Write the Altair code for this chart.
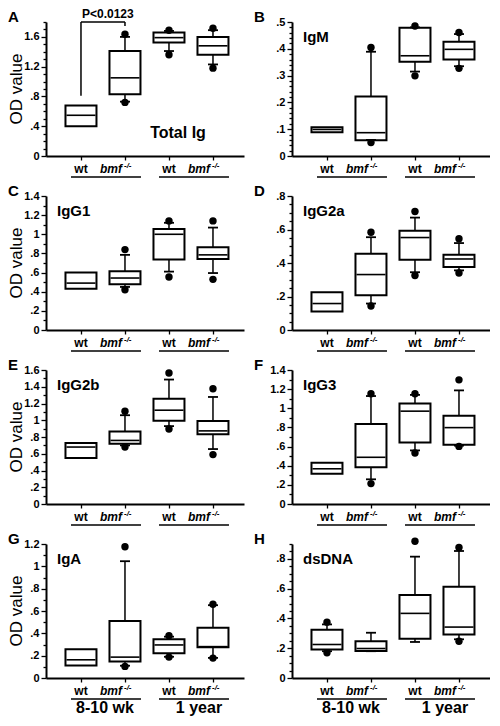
import altair as alt
import pandas as pd

GROUPS = ["wt 8-10 wk", "bmf 8-10 wk", "wt 1 year", "bmf 1 year"]
GENOTYPE = ["wt", "bmf", "wt", "bmf"]
SUPERSCRIPT = ["", "-/-", "", "-/-"]
AGE_LABELS = ["8-10 wk", "1 year"]

# per panel: box q1 / median / q3, whisker ends, and the plotted extreme dots
TOTAL_IG = {"q1": [0.40, 0.83, 1.525, 1.36], "median": [0.547, 1.05, 1.59, 1.48], "q3": [0.68, 1.41, 1.66, 1.60],
            "wlo": [None, 0.73, 1.41, 1.23], "whi": [None, 1.60, 1.68, 1.69],
            "dlo": [None, 0.72, 1.36, 1.18], "dhi": [None, 1.635, 1.69, 1.715]}
IGM = {"q1": [0.089, 0.059, 0.352, 0.36], "median": [0.099, 0.087, 0.374, 0.398], "q3": [0.107, 0.222, 0.479, 0.426],
       "wlo": [None, 0.06, 0.315, 0.335], "whi": [None, 0.389, 0.48, 0.455],
       "dlo": [None, 0.05, 0.299, 0.327], "dhi": [None, 0.405, 0.485, 0.461]}
IGG1 = {"q1": [0.43, 0.477, 0.736, 0.743], "median": [0.49, 0.543, 1.0, 0.785], "q3": [0.60, 0.615, 1.055, 0.864],
        "wlo": [None, 0.45, 0.61, 0.595], "whi": [None, 0.785, 1.12, 1.07],
        "dlo": [None, 0.42, 0.553, 0.529], "dhi": [None, 0.84, 1.14, 1.14]}
IGG2A = {"q1": [0.111, 0.208, 0.42, 0.376], "median": [0.158, 0.331, 0.552, 0.424], "q3": [0.226, 0.455, 0.592, 0.45],
         "wlo": [None, 0.158, 0.345, 0.356], "whi": [None, 0.554, 0.671, 0.519],
         "dlo": [None, 0.143, 0.325, 0.34], "dhi": [None, 0.584, 0.707, 0.545]}
IGG2B = {"q1": [0.55, 0.72, 0.995, 0.833], "median": [0.68, 0.759, 1.12, 0.873], "q3": [0.727, 0.865, 1.258, 0.99],
         "wlo": [None, 0.70, 0.93, 0.656], "whi": [None, 1.06, 1.486, 1.278],
         "dlo": [None, 0.68, 0.896, 0.59], "dhi": [None, 1.108, 1.564, 1.376]}
IGG3 = {"q1": [0.316, 0.385, 0.643, 0.619], "median": [0.368, 0.488, 0.97, 0.798], "q3": [0.43, 0.836, 1.049, 0.922],
        "wlo": [None, 0.258, 0.56, 0.61], "whi": [None, 1.128, 1.14, 1.187],
        "dlo": [None, 0.213, 0.533, 0.602], "dhi": [None, 1.152, 1.152, 1.297]}
IGA = {"q1": [0.113, 0.148, 0.222, 0.276], "median": [0.163, 0.187, 0.296, 0.281], "q3": [0.258, 0.51, 0.347, 0.45],
       "wlo": [None, 0.11, 0.19, 0.18], "whi": [None, 1.046, 0.37, 0.652],
       "dlo": [None, 0.104, 0.187, 0.178], "dhi": [None, 1.176, 0.379, 0.661]}
DSDNA = {"q1": [0.192, 0.181, 0.264, 0.293], "median": [0.225, 0.198, 0.434, 0.342], "q3": [0.324, 0.247, 0.558, 0.613],
         "wlo": [0.18, 0.18, 0.242, 0.26], "whi": [0.36, 0.304, 0.815, 0.853],
         "dlo": [0.17, None, None, 0.247], "dhi": [0.375, None, 0.919, 0.877]}

# significance bracket in panel A
BRACKET = {"start": ["wt 8-10 wk"], "end": ["bmf 8-10 wk"], "base": [0.81], "top": [1.80], "drop": [1.745],
           "label": ["P<0.0123"]}

# letter, title, stats, y max, major step, minor step
PANELS = [
    ("A", "Total Ig", TOTAL_IG, 1.8, 0.4, 0.1),
    ("B", "IgM", IGM, 0.5, 0.1, 0.02),
    ("C", "IgG1", IGG1, 1.4, 0.2, 0.1),
    ("D", "IgG2a", IGG2A, 0.8, 0.2, 0.05),
    ("E", "IgG2b", IGG2B, 1.6, 0.2, 0.1),
    ("F", "IgG3", IGG3, 1.4, 0.2, 0.1),
    ("G", "IgA", IGA, 1.2, 0.2, 0.1),
    ("H", "dsDNA", DSDNA, 0.9, 0.2, 0.05),
]

FONT = "Liberation Sans"
W, H = 198, 134


def panel(idx, letter, title, stats, ymax, major, minor):
    left = idx % 2 == 0
    bottom = idx >= 6
    df = pd.DataFrame({"group": GROUPS, **stats})

    xs = alt.Scale(type="point", domain=GROUPS, padding=0.75, align=0.53)
    xax = alt.Axis(labels=False, ticks=True, tickSize=4, tickWidth=1.3, tickColor="black",
                   domainColor="black", domainWidth=2, title=None, grid=False)

    def X(f="group"):
        return alt.X(f"{f}:N", scale=xs, axis=xax)

    n = int(round(ymax / minor))
    vals = [round(i * minor, 4) for i in range(n + 1)]
    test = f"abs(datum.value/{major} - round(datum.value/{major})) < 0.001"
    yax = alt.Axis(values=vals, title=None, grid=False,
                   labelExpr=f"({test}) ? replace(format(datum.value, '.2~f'), '0.', '.') : ''",
                   tickSize={"condition": {"test": test, "value": 5}, "value": 3},
                   tickWidth=1.3, tickColor="black", domainColor="black", domainWidth=2,
                   labelFont=FONT, labelFontWeight="bold", labelFontSize=11, labelColor="black",
                   labelPadding=2, labelOverlap=False, labelFlush=False)
    ys = alt.Scale(domain=[0, ymax], nice=False, zero=True)

    def Y(f):
        return alt.Y(f"{f}:Q", scale=ys, axis=yax)

    base = alt.Chart(df)
    layers = [
        base.mark_rule(color="black", strokeWidth=1.5).encode(x=X(), y=Y("q3"), y2="whi:Q")
            .transform_filter("isValid(datum.whi)"),
        base.mark_rule(color="black", strokeWidth=1.5).encode(x=X(), y=Y("wlo"), y2="q1:Q")
            .transform_filter("isValid(datum.wlo)"),
        base.mark_bar(size=31, fill="white", stroke="black", strokeWidth=2).encode(x=X(), y=Y("q1"), y2="q3:Q"),
        base.mark_tick(size=29, thickness=1.6, color="black", opacity=1).encode(x=X(), y=Y("median")),
        base.mark_tick(size=10, thickness=1.8, color="black", opacity=1).encode(x=X(), y=Y("whi"))
            .transform_filter("isValid(datum.whi)"),
        base.mark_tick(size=10, thickness=1.8, color="black", opacity=1).encode(x=X(), y=Y("wlo"))
            .transform_filter("isValid(datum.wlo)"),
        base.mark_circle(size=55, color="black", opacity=1).encode(x=X(), y=Y("dhi"))
            .transform_filter("isValid(datum.dhi)"),
        base.mark_circle(size=55, color="black", opacity=1).encode(x=X(), y=Y("dlo"))
            .transform_filter("isValid(datum.dlo)"),
    ]

    lab = alt.Chart(pd.DataFrame({"group": GROUPS, "geno": GENOTYPE, "sup": SUPERSCRIPT}))
    layers += [
        lab.transform_filter("datum.geno == 'wt'").mark_text(
            font=FONT, fontWeight="bold", fontSize=12, align="center", baseline="alphabetic", color="black"
        ).encode(x=X(), y=alt.value(H + 17), text="geno:N"),
        lab.transform_filter("datum.geno == 'bmf'").mark_text(
            font=FONT, fontWeight="bold", fontStyle="italic", fontSize=12, align="right",
            baseline="alphabetic", dx=-3, color="black"
        ).encode(x=X(), y=alt.value(H + 17), text="geno:N"),
        lab.transform_filter("datum.sup != ''").mark_text(
            font=FONT, fontWeight="bold", fontStyle="italic", fontSize=8, align="left",
            baseline="alphabetic", dx=-1, color="black"
        ).encode(x=X(), y=alt.value(H + 12), text="sup:N"),
    ]

    und = alt.Chart(pd.DataFrame({"start": [GROUPS[0], GROUPS[2]], "end": [GROUPS[1], GROUPS[3]]}))
    layers.append(
        und.mark_rule(color="black", strokeWidth=1.5, xOffset=-10, x2Offset=16).encode(
            x=X("start"), x2="end:N", y=alt.value(H + 21))
    )

    one = lambda t: alt.Chart(pd.DataFrame({"t": [t]}))
    layers.append(one(letter).mark_text(font=FONT, fontWeight="bold", fontSize=15, align="left",
                                         baseline="top", color="black")
                  .encode(text="t:N", x=alt.value(-38), y=alt.value(-12)))
    if letter == "A":
        layers.append(one(title).mark_text(font=FONT, fontWeight="bold", fontSize=16, align="center",
                                            baseline="middle", color="black")
                      .encode(text="t:N", x=alt.value(132), y=alt.value(H - 23)))
    else:
        layers.append(one(title).mark_text(font=FONT, fontWeight="bold", fontSize=15, align="left",
                                            baseline="middle", color="black")
                      .encode(text="t:N", x=alt.value(11), y=alt.value(15)))
    if left:
        layers.append(one("OD value").mark_text(font=FONT, fontSize=17, angle=270, align="center",
                                                 baseline="middle", color="black")
                      .encode(text="t:N", x=alt.value(-29), y=alt.value(H / 2)))
    if bottom:
        ages = alt.Chart(pd.DataFrame({"group": [GROUPS[0], GROUPS[2]], "age": AGE_LABELS}))
        layers.append(ages.transform_filter(f"datum.group == '{GROUPS[0]}'").mark_text(
            font=FONT, fontWeight="bold", fontSize=16, align="center", baseline="bottom", dx=24, color="black"
        ).encode(x=X(), y=alt.value(H + 38), text="age:N"))
        layers.append(ages.transform_filter(f"datum.group == '{GROUPS[2]}'").mark_text(
            font=FONT, fontWeight="bold", fontSize=16, align="center", baseline="bottom", dx=30, color="black"
        ).encode(x=X(), y=alt.value(H + 38), text="age:N"))
    if letter == "A":
        br = alt.Chart(pd.DataFrame(BRACKET))
        layers += [
            br.mark_rule(color="black", strokeWidth=1.5).encode(x=X("start"), y=Y("base"), y2="top:Q"),
            br.mark_rule(color="black", strokeWidth=1.5).encode(x=X("start"), x2="end:N", y=Y("top")),
            br.mark_rule(color="black", strokeWidth=1.5).encode(x=X("end"), y=Y("drop"), y2="top:Q"),
            br.mark_text(font=FONT, fontWeight="bold", fontSize=12, align="left", baseline="bottom",
                         dx=1, dy=-1, color="black").encode(x=X("start"), y=Y("top"), text="label:N"),
        ]
    return alt.layer(*layers).properties(width=W, height=H)


panels = [panel(i, *p) for i, p in enumerate(PANELS)]
chart = alt.concat(*panels, columns=2, spacing={"row": 40, "column": 48}, bounds="flush").properties(
    padding=0
).configure_view(strokeWidth=0)

chart.save("out.html", embed_options={"renderer": "svg", "actions": False})
